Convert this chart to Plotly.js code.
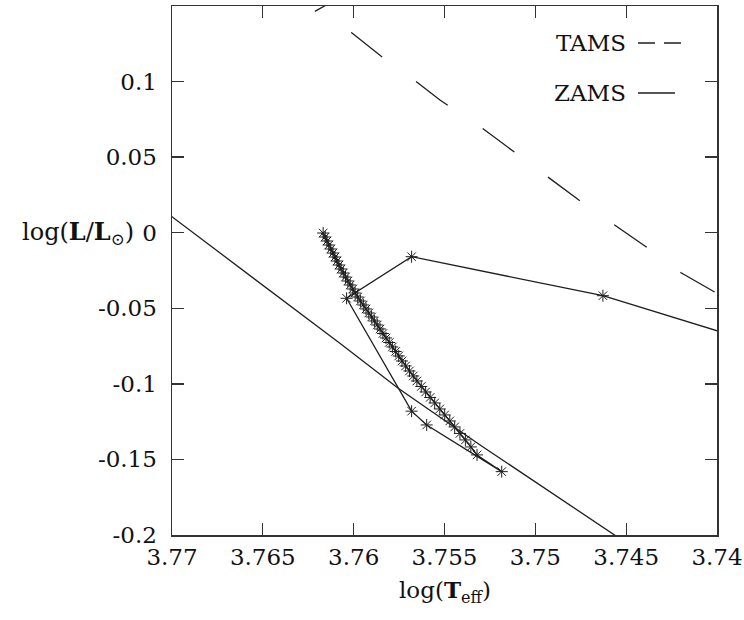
<!DOCTYPE html>
<html>
<head>
<meta charset="utf-8">
<script src="https://cdn.plot.ly/plotly-3.0.1.min.js"></script>
<style>html,body{margin:0;padding:0;background:#fff;}#chart{width:744px;height:620px;}</style>
</head>
<body>
<div id="chart"></div>
<script>
// ---- data ----
// Evolutionary track: pre-main-sequence part then the dense main-sequence part
var trackTeff = [3.7380, 3.74628, 3.75681, 3.76039, 3.75681, 3.75598, 3.75185,
  3.75321, 3.75355, 3.75385, 3.75415, 3.75444, 3.75471, 3.75499, 3.75526,
  3.75554, 3.75579, 3.75604, 3.75628, 3.75652, 3.75672, 3.75693, 3.75714,
  3.75734, 3.75752, 3.75769, 3.75787, 3.75804, 3.75822, 3.75839, 3.75855,
  3.75870, 3.75886, 3.75901, 3.75917, 3.75932, 3.75947, 3.75963, 3.75978,
  3.75992, 3.76005, 3.76019, 3.76032, 3.76045, 3.76057, 3.76069, 3.76081,
  3.76092, 3.76103, 3.76114, 3.76126, 3.76137, 3.76147, 3.76157, 3.76168];
var trackLum = [-0.0722, -0.04167, -0.01587, -0.04339, -0.11806, -0.12718, -0.15807,
  -0.14702, -0.14173, -0.13710, -0.13280, -0.12851, -0.12454, -0.12057, -0.11660,
  -0.11263, -0.10899, -0.10536, -0.10172, -0.09808, -0.09478, -0.09147, -0.08816,
  -0.08485, -0.08155, -0.07857, -0.07560, -0.07262, -0.06964, -0.06667, -0.06369,
  -0.06104, -0.05840, -0.05575, -0.05311, -0.05046, -0.04782, -0.04517, -0.04253,
  -0.03988, -0.03724, -0.03459, -0.03194, -0.02930, -0.02665, -0.02401, -0.02136,
  -0.01872, -0.01607, -0.01343, -0.01078, -0.00813, -0.00549, -0.00284, -0.0002];

var zamsTeff = [3.77123, 3.77, 3.76076, 3.75755, 3.75304, 3.74551, 3.74359];
var zamsLum  = [0.02169, 0.01058, -0.07315, -0.10291, -0.14041, -0.20106, -0.21647];

var tamsTeff = [3.76024, 3.76214, 3.76011, 3.75850, 3.75672, 3.75525, 3.75295,
  3.75111, 3.74941, 3.74766, 3.74542, 3.74346, 3.74198, 3.74, 3.73844];
var tamsLum  = [0.15919, 0.14643, 0.13228, 0.11687, 0.10146, 0.08776, 0.06944,
  0.05291, 0.03816, 0.02209, 0.00331, -0.01296, -0.02646, -0.04008, -0.05086];

var xTickVals = [3.77, 3.765, 3.76, 3.755, 3.75, 3.745, 3.74];
var xTickText = ['3.77', '3.765', '3.76', '3.755', '3.75', '3.745', '3.74'];
var yTickVals = [-0.2, -0.15, -0.1, -0.05, 0, 0.05, 0.1];
var yTickText = ['-0.2', '-0.15', '-0.1', '-0.05', '0', '0.05', '0.1'];

var legendNames = ['TAMS', 'ZAMS'];

// ---- chart ----
var FONT = 'DejaVu Serif';
var FS = 23;
var INK = '#1e1e1e';
var TXT = '#111';

var traces = [
  {x: zamsTeff, y: zamsLum, mode: 'lines', name: 'ZAMS',
   line: {color: INK, width: 1.3}, showlegend: false},
  {x: tamsTeff, y: tamsLum, mode: 'lines', name: 'TAMS',
   line: {color: INK, width: 1.3, dash: '39.5px,42px'}, showlegend: false},
  {x: trackTeff, y: trackLum, mode: 'lines+markers', name: 'track',
   line: {color: INK, width: 1.3},
   marker: {symbol: 'asterisk-open', size: 10, color: INK, line: {width: 1, color: INK}},
   showlegend: false}
];

var layout = {
  width: 744, height: 620,
  margin: {l: 172, r: 27, t: 6, b: 85, pad: 0},
  paper_bgcolor: '#fff', plot_bgcolor: '#fff',
  font: {family: FONT, size: FS, color: TXT},
  showlegend: false,
  xaxis: {
    range: [3.77, 3.74], autorange: false,
    tickmode: 'array', tickvals: xTickVals, ticktext: xTickText,
    ticks: 'inside', ticklen: 12, tickwidth: 1.3, tickcolor: '#333',
    showline: true, linecolor: '#333', linewidth: 1.5, mirror: 'ticks',
    showgrid: false, zeroline: false,
    ticklabelstandoff: 1,
    tickfont: {family: FONT, size: FS, color: TXT}
  },
  yaxis: {
    range: [-0.2, 0.15], autorange: false,
    tickmode: 'array', tickvals: yTickVals, ticktext: yTickText,
    ticks: 'inside', ticklen: 12, tickwidth: 1.3, tickcolor: '#333',
    showline: true, linecolor: '#333', linewidth: 1.5, mirror: 'ticks',
    showgrid: false, zeroline: false,
    ticklabelstandoff: 9,
    tickfont: {family: FONT, size: FS, color: TXT}
  },
  annotations: [
    {xref: 'paper', yref: 'paper', x: -0.066, y: 0.5718, xanchor: 'right', yanchor: 'middle',
     text: 'log(<b>L</b>/<b>L</b><sub>⊙</sub>)', showarrow: false,
     font: {family: FONT, size: 24, color: TXT}},
    {xref: 'paper', yref: 'paper', x: 0.5, y: -0.106, xanchor: 'center', yanchor: 'middle',
     text: 'log(<b>T</b><sub>eff</sub>)', showarrow: false,
     font: {family: FONT, size: FS, color: TXT}},
    {xref: 'paper', yref: 'paper', x: 0.8367, y: 0.9301, xanchor: 'right', yanchor: 'middle',
     text: legendNames[0], showarrow: false, font: {family: FONT, size: FS, color: TXT}},
    {xref: 'paper', yref: 'paper', x: 0.8367, y: 0.8355, xanchor: 'right', yanchor: 'middle',
     text: legendNames[1], showarrow: false, font: {family: FONT, size: FS, color: TXT}}
  ],
  shapes: [
    {type: 'line', xref: 'paper', yref: 'paper', x0: 0.855, x1: 0.9358, y0: 0.9301, y1: 0.9301,
     line: {color: INK, width: 1.3, dash: '17px,9px'}},
    {type: 'line', xref: 'paper', yref: 'paper', x0: 0.855, x1: 0.9229, y0: 0.8355, y1: 0.8355,
     line: {color: INK, width: 1.3}}
  ]
};

Plotly.newPlot('chart', traces, layout, {displayModeBar: false, staticPlot: true});
</script>
</body>
</html>
